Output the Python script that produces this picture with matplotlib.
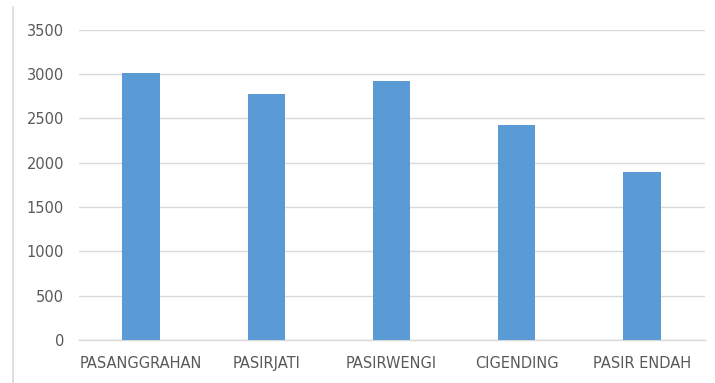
import matplotlib
matplotlib.use("Agg")
import matplotlib.pyplot as plt
from matplotlib.lines import Line2D

categories = ["PASANGGRAHAN", "PASIRJATI", "PASIRWENGI", "CIGENDING", "PASIR ENDAH"]
values = [3010, 2775, 2915, 2420, 1890]
yticks = [0, 500, 1000, 1500, 2000, 2500, 3000, 3500]

plt.rcParams['font.family'] = ['DejaVu Sans']

fig = plt.figure(figsize=(7.15, 3.83), dpi=100)
ax = fig.add_axes([78.5 / 715, 1 - 340 / 383, 626 / 715, 310.5 / 383])

x = range(len(categories))
ax.bar(x, values, width=0.30, color="#5B9BD5", zorder=3)

ax.set_xlim(-0.5, len(categories) - 0.5)
ax.set_ylim(0, 3500)
ax.set_yticks(yticks)
ax.set_xticks(list(x))
ax.set_xticklabels(categories)
ax.grid(axis="y", color="#D9D9D9", linewidth=1.0, zorder=0)

for s in ["top", "right", "left"]:
    ax.spines[s].set_visible(False)
ax.spines["bottom"].set_color("#D9D9D9")
ax.spines["bottom"].set_linewidth(1.0)

ax.tick_params(axis="both", length=0, colors="#595959", labelsize=10.5)
ax.tick_params(axis="x", pad=11.5)
ax.tick_params(axis="y", pad=10.5)

# chart area border on the left
fig.add_artist(Line2D([13 / 715, 13 / 715], [0, 1 - 7 / 383],
                      transform=fig.transFigure, color="#D9D9D9", linewidth=1.2))

fig.savefig("out.png", dpi=100)
